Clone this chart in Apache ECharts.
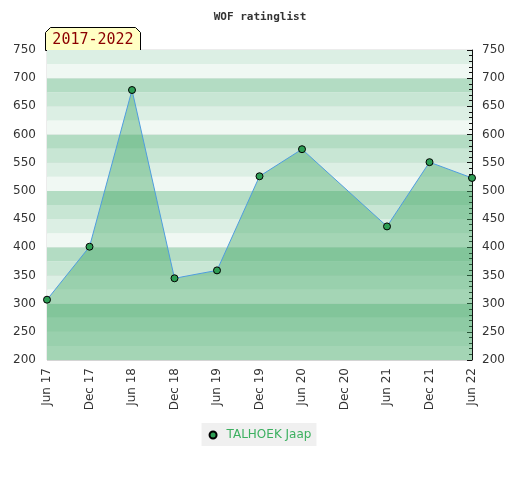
<!DOCTYPE html>
<html><head><meta charset="utf-8">
<script src="https://cdn.jsdelivr.net/npm/echarts@6/dist/echarts.min.js"></script>
<style>html,body{margin:0;padding:0;background:#fff}#c{width:520px;height:480px}</style>
</head><body><div id="c"></div>
<script>
var categories = ['Jun 17','Dec 17','Jun 18','Dec 18','Jun 19','Dec 19','Jun 20','Dec 20','Jun 21','Dec 21','Jun 22'];
var ratings = [307, 401, 679, 345, 359, 526, 574, null, 437, 551, 523];
var seriesName = 'TALHOEK Jaap';
var titleText = 'WOF ratinglist';
var periodText = '2017-2022';

var chart = echarts.init(document.getElementById('c'));
chart.setOption({
  animation: false,
  title: {text: titleText, left: 'center', top: 7, textStyle: {fontFamily: 'DejaVu Sans Mono', fontSize: 11, fontWeight: 'bold', color: '#333'}},
  grid: {left: 47, right: 48, top: 50, bottom: 120, show: true, borderColor: '#d8d8d8', borderWidth: 1, backgroundColor: 'transparent'},
  legend: {bottom: 34, left: 'center', backgroundColor: '#f0f0f0', padding: [6, 5, 5, 7], itemWidth: 7, itemHeight: 7, itemGap: 6,
    textStyle: {color: '#3cb060', fontSize: 12, fontFamily: 'DejaVu Sans', padding: [0, 0, 0, 5]}, data: [{name: seriesName, icon: 'circle'}]},
  xAxis: {type: 'category', data: categories, boundaryGap: false,
    axisLine: {show: false}, axisTick: {show: false},
    axisLabel: {rotate: 90, fontSize: 12, color: '#333', fontFamily: 'DejaVu Sans', margin: 8, interval: 0},
    splitLine: {show: false}},
  yAxis: [
    {type: 'value', min: 200, max: 750, interval: 50, position: 'left',
      axisLine: {show: false}, axisTick: {show: false},
      axisLabel: {fontSize: 12, color: '#333', fontFamily: 'DejaVu Sans', margin: 11},
      splitLine: {show: true, lineStyle: {color: 'rgba(190,190,190,0.5)'}}},
    {type: 'value', min: 200, max: 750, interval: 50, position: 'right',
      axisLine: {show: true, lineStyle: {color: '#111', width: 1}},
      axisTick: {show: true, inside: true, length: 5, lineStyle: {color: '#111'}},
      minorTick: {show: true, splitNumber: 5, length: 3, lineStyle: {color: '#111'}},
      axisLabel: {fontSize: 12, color: '#333', fontFamily: 'DejaVu Sans', margin: 10},
      splitLine: {show: false}},
    {type: 'value', min: 200, max: 750, interval: 25, position: 'left', z: 0,
      axisLine: {show: false}, axisTick: {show: false}, axisLabel: {show: false},
      splitLine: {show: false},
      splitArea: {show: true, areaStyle: {color: ['#f0f8f3', '#dcefe4', '#c8e6d4', '#b3dcc3']}}}
  ],
  graphic: [{
    type: 'group', left: 45, top: 27, z: 100,
    children: [
      {type: 'polygon', shape: {points: [[0, 23], [0, 5], [5, 0], [90, 0], [95, 5], [95, 23]]},
        style: {fill: '#ffffc4', stroke: '#000', lineWidth: 1}},
      {type: 'text', x: 47.5, y: 13, style: {text: periodText, fill: '#8b0000', font: '15px "DejaVu Sans Mono"', textAlign: 'center', textVerticalAlign: 'middle'}}
    ]
  }],
  series: [{
    name: seriesName, type: 'line', data: ratings, connectNulls: true, yAxisIndex: 0,
    symbol: 'circle', symbolSize: 7,
    lineStyle: {color: '#4f9ddf', width: 1},
    itemStyle: {color: '#2e9e55', borderColor: '#000', borderWidth: 1},
    areaStyle: {color: 'rgba(66,168,102,0.62)', origin: 'start'},
    z: 5
  }]
});
</script></body></html>
